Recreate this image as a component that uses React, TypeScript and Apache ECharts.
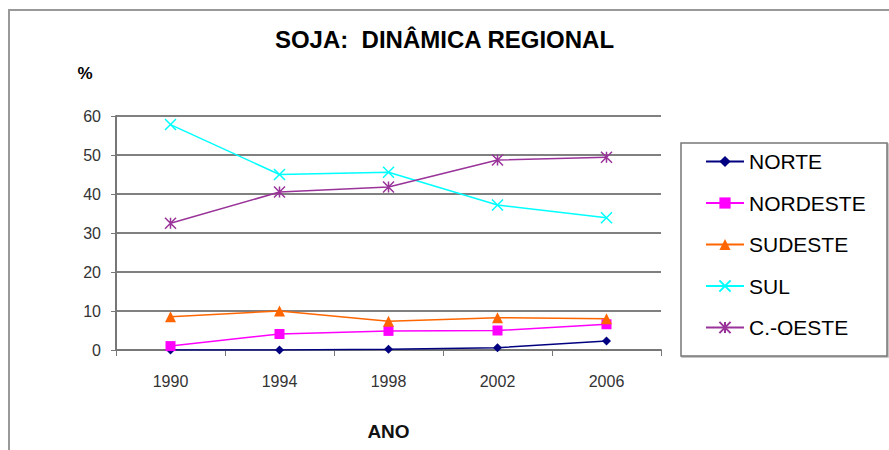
import React, { useEffect, useRef } from "react";
import * as echarts from "echarts";

const years = ["1990", "1994", "1998", "2002", "2006"];
const norte = [0, 0, 0.2, 0.6, 2.3];
const nordeste = [1.0, 4.1, 4.9, 5.0, 6.6];
const sudeste = [8.5, 10.0, 7.4, 8.3, 8.0];
const sul = [57.8, 45.0, 45.6, 37.2, 33.9];
const coeste = [32.5, 40.5, 41.8, 48.7, 49.4];
const yTicks = { min: 0, max: 60, interval: 10 };

const FONT = "'Liberation Sans', Arial, sans-serif";

export default function App() {
  const ref = useRef<HTMLDivElement>(null);
  useEffect(() => {
    if (!ref.current) return;
    const chart = echarts.init(ref.current, undefined, { renderer: "svg" });
    const crossPath = "path://M0,0L10,10M10,0L0,10";
    const starPath = "path://M0,0L10,10M10,0L0,10M5,0L5,10";
    const mk = (name: string, data: number[], color: string, symbol: string, size: number, open = false) => ({
      name,
      type: "line",
      data,
      symbol,
      symbolSize: size,
      showSymbol: true,
      lineStyle: { color, width: 1.5 },
      itemStyle: open
        ? { color, borderColor: color, borderWidth: 1.5 }
        : { color },
      emphasis: { disabled: true },
    });
    chart.setOption({
      animation: false,
      textStyle: { fontFamily: FONT },
      title: {
        text: "SOJA:  DINÂMICA REGIONAL",
        left: "center",
        top: 22,
        textStyle: { fontSize: 24, fontWeight: "bold", color: "#000", fontFamily: FONT },
      },
      graphic: [
        {
          type: "rect",
          shape: { x: 9, y: 10, width: 900, height: 470 },
          style: { fill: "none", stroke: "#999", lineWidth: 2 },
          silent: true,
        },
        {
          type: "rect",
          shape: { x: 681, y: 143, width: 206, height: 213 },
          style: { fill: "#fff", stroke: "#777", lineWidth: 1.5, shadowColor: "rgba(0,0,0,0.3)", shadowOffsetX: 1, shadowOffsetY: 1, shadowBlur: 1 },
          silent: true,
          z: -1,
        },
        {
          type: "text",
          x: 85,
          y: 73,
          style: { text: "%", font: "bold 17px " + FONT, fill: "#000", textAlign: "center", textVerticalAlign: "middle" },
          silent: true,
        },
      ],
      legend: {
        orient: "vertical",
        left: 700,
        top: 146,
        itemWidth: 38,
        itemHeight: 14,
        itemGap: 20.5,
        textStyle: { fontSize: 21, lineHeight: 21, color: "#000", fontFamily: FONT },
        data: ["NORTE", "NORDESTE", "SUDESTE", "SUL", "C.-OESTE"],
      },
      grid: { left: 116, top: 116, right: 228, bottom: 100, containLabel: false },
      xAxis: {
        type: "category",
        data: years,
        boundaryGap: true,
        name: "ANO",
        nameLocation: "middle",
        nameGap: 72,
        nameTextStyle: { fontSize: 19, fontWeight: "bold", color: "#111", fontFamily: FONT },
        axisLine: { lineStyle: { color: "#777", width: 2 } },
        axisTick: { show: true, length: 6, lineStyle: { color: "#777", width: 1 } },
        axisLabel: { fontSize: 16, color: "#333", margin: 23, fontFamily: FONT },
      },
      yAxis: {
        type: "value",
        min: yTicks.min,
        max: yTicks.max,
        interval: yTicks.interval,
        axisLine: { show: true, lineStyle: { color: "#777", width: 2 } },
        axisTick: { show: true, length: 5, lineStyle: { color: "#777" } },
        axisLabel: { fontSize: 16, color: "#333", margin: 15, fontFamily: FONT },
        splitLine: { show: true, lineStyle: { color: "#808080", width: 2 } },
      },
      series: [
        mk("NORTE", norte, "#000080", "diamond", 9),
        mk("NORDESTE", nordeste, "#FF00FF", "rect", 10),
        mk("SUDESTE", sudeste, "#FF6600", "triangle", 11),
        mk("SUL", sul, "#00FFFF", crossPath, 11, true),
        mk("C.-OESTE", coeste, "#993399", starPath, 11, true),
      ],
    });
    return () => chart.dispose();
  }, []);
  return <div ref={ref} style={{ width: 889, height: 450, position: "absolute", left: 0, top: 0 }} />;
}
